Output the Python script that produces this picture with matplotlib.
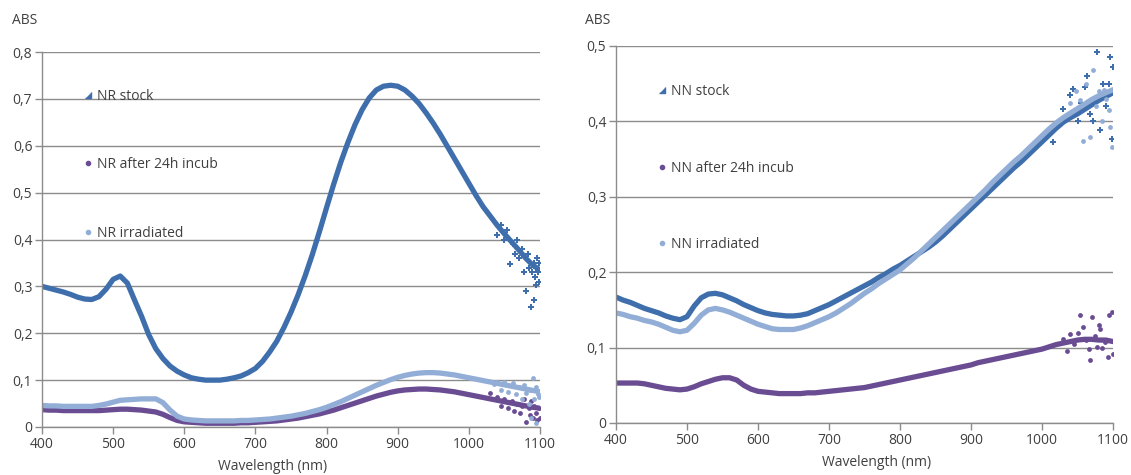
import matplotlib
matplotlib.use("Agg")
import matplotlib.pyplot as plt
from matplotlib.ticker import FuncFormatter, MultipleLocator
from matplotlib.patches import Rectangle
from matplotlib.lines import Line2D
import numpy as np

# ---------------- data ----------------
wl = list(range(400, 1101, 10))

nr_stock = [0.300, 0.296, 0.292, 0.288, 0.283, 0.277, 0.273, 0.272, 0.278, 0.294,
            0.315, 0.322, 0.307, 0.271, 0.236, 0.197, 0.167, 0.146, 0.130, 0.119,
            0.111, 0.105, 0.102, 0.100, 0.100, 0.100, 0.102, 0.105, 0.109, 0.116,
            0.125, 0.140, 0.160, 0.183, 0.212, 0.245, 0.282, 0.323, 0.368, 0.417,
            0.468, 0.518, 0.565, 0.607, 0.645, 0.677, 0.702, 0.719, 0.727, 0.729,
            0.727, 0.719, 0.706, 0.690, 0.670, 0.648, 0.624, 0.598, 0.572, 0.546,
            0.520, 0.494, 0.470, 0.450, 0.430, 0.412, 0.395, 0.378, 0.360, 0.345,
            0.335]
nr_incub = [0.037, 0.036, 0.036, 0.035, 0.035, 0.035, 0.035, 0.035, 0.035, 0.036,
            0.037, 0.038, 0.038, 0.037, 0.036, 0.034, 0.032, 0.027, 0.020, 0.014,
            0.011, 0.010, 0.009, 0.008, 0.008, 0.008, 0.008, 0.008, 0.009, 0.009,
            0.010, 0.011, 0.012, 0.013, 0.015, 0.017, 0.019, 0.022, 0.025, 0.028,
            0.032, 0.036, 0.041, 0.046, 0.051, 0.056, 0.061, 0.066, 0.070, 0.074,
            0.077, 0.079, 0.080, 0.081, 0.081, 0.080, 0.079, 0.077, 0.075, 0.072,
            0.069, 0.066, 0.063, 0.060, 0.057, 0.054, 0.051, 0.048, 0.045, 0.042,
            0.040]
nr_irr = [0.046, 0.045, 0.045, 0.044, 0.044, 0.044, 0.044, 0.044, 0.046, 0.049,
          0.053, 0.057, 0.058, 0.059, 0.060, 0.060, 0.060, 0.052, 0.036, 0.023,
          0.017, 0.015, 0.014, 0.013, 0.013, 0.013, 0.013, 0.013, 0.014, 0.014,
          0.015, 0.016, 0.017, 0.019, 0.021, 0.023, 0.026, 0.029, 0.033, 0.037,
          0.042, 0.048, 0.054, 0.061, 0.068, 0.075, 0.082, 0.089, 0.095, 0.101,
          0.106, 0.110, 0.113, 0.115, 0.116, 0.116, 0.115, 0.113, 0.111, 0.108,
          0.105, 0.102, 0.099, 0.096, 0.093, 0.090, 0.087, 0.084, 0.081, 0.078,
          0.075]

# scattered (noisy) readings near the end of the range
nr_stock_nx = [1040, 1045, 1050, 1054, 1058, 1062, 1065, 1068, 1071, 1074, 1077, 1080, 1083,
               1085, 1087, 1089, 1091, 1092, 1093, 1094, 1095, 1096, 1097, 1098, 1099]
nr_stock_ny = [0.41, 0.43, 0.40, 0.42, 0.348, 0.39, 0.37, 0.40, 0.36, 0.38, 0.33, 0.291, 0.37,
               0.34, 0.257, 0.33, 0.35, 0.271, 0.32, 0.302, 0.34, 0.36, 0.33, 0.35, 0.31]
nr_incub_nx = [1030, 1040, 1045, 1050, 1055, 1060, 1064, 1068, 1072, 1075, 1078, 1081, 1084,
               1086, 1088, 1090, 1092, 1094, 1096, 1098, 1100]
nr_incub_ny = [0.072, 0.065, 0.045, 0.060, 0.040, 0.055, 0.035, 0.050, 0.030, 0.045, 0.060,
               0.010, 0.040, 0.025, 0.055, 0.020, 0.045, 0.030, 0.015, 0.040, 0.020]
nr_irr_nx = [1035, 1040, 1045, 1050, 1055, 1060, 1062, 1066, 1070, 1074, 1078, 1081, 1084,
             1086, 1088, 1090, 1092, 1094, 1095, 1097, 1099]
nr_irr_ny = [0.092, 0.097, 0.080, 0.095, 0.075, 0.090, 0.093, 0.070, 0.085, 0.060, 0.090,
             0.072, 0.050, 0.080, 0.019, 0.104, 0.060, 0.085, 0.008, 0.070, 0.065]

nn_stock = [0.167, 0.163, 0.160, 0.156, 0.152, 0.149, 0.146, 0.142, 0.139, 0.137,
            0.141, 0.155, 0.166, 0.171, 0.172, 0.170, 0.166, 0.162, 0.157, 0.153,
            0.149, 0.146, 0.144, 0.143, 0.142, 0.142, 0.143, 0.145, 0.149, 0.153,
            0.157, 0.162, 0.167, 0.172, 0.177, 0.182, 0.187, 0.193, 0.198, 0.204,
            0.209, 0.215, 0.221, 0.227, 0.233, 0.240, 0.248, 0.257, 0.266, 0.275,
            0.284, 0.293, 0.302, 0.311, 0.320, 0.329, 0.338, 0.346, 0.355, 0.364,
            0.373, 0.382, 0.391, 0.399, 0.405, 0.410, 0.416, 0.422, 0.428, 0.433,
            0.438]
nn_incub = [0.053, 0.053, 0.053, 0.053, 0.052, 0.050, 0.048, 0.046, 0.045, 0.044,
            0.045, 0.048, 0.052, 0.055, 0.058, 0.060, 0.060, 0.057, 0.050, 0.045,
            0.042, 0.041, 0.040, 0.039, 0.039, 0.039, 0.039, 0.040, 0.040, 0.041,
            0.042, 0.043, 0.044, 0.045, 0.046, 0.047, 0.049, 0.051, 0.053, 0.055,
            0.057, 0.059, 0.061, 0.063, 0.065, 0.067, 0.069, 0.071, 0.073, 0.075,
            0.077, 0.080, 0.082, 0.084, 0.086, 0.088, 0.090, 0.092, 0.094, 0.096,
            0.098, 0.101, 0.104, 0.106, 0.108, 0.110, 0.111, 0.111, 0.110, 0.110,
            0.108]
nn_irr = [0.146, 0.144, 0.141, 0.139, 0.136, 0.134, 0.131, 0.127, 0.123, 0.121,
          0.123, 0.132, 0.143, 0.150, 0.152, 0.150, 0.147, 0.143, 0.139, 0.135,
          0.131, 0.128, 0.125, 0.124, 0.124, 0.124, 0.126, 0.129, 0.133, 0.137,
          0.141, 0.146, 0.152, 0.158, 0.165, 0.172, 0.178, 0.185, 0.191, 0.197,
          0.203, 0.211, 0.219, 0.228, 0.237, 0.246, 0.255, 0.264, 0.273, 0.282,
          0.291, 0.300, 0.309, 0.319, 0.328, 0.337, 0.346, 0.354, 0.363, 0.372,
          0.381, 0.390, 0.398, 0.405, 0.411, 0.417, 0.423, 0.429, 0.434, 0.438,
          0.442]

nn_stock_nx = [1015, 1030, 1040, 1044, 1050, 1055, 1060, 1063, 1068, 1072, 1077, 1080, 1082,
               1086, 1090, 1094, 1096, 1098, 1100]
nn_stock_ny = [0.373, 0.417, 0.435, 0.443, 0.400, 0.425, 0.445, 0.460, 0.410, 0.401, 0.492,
               0.432, 0.388, 0.450, 0.420, 0.450, 0.485, 0.377, 0.472]
nn_incub_nx = [1030, 1035, 1040, 1045, 1050, 1054, 1058, 1062, 1066, 1068, 1070, 1074, 1077,
               1080, 1082, 1085, 1089, 1093, 1095, 1098, 1100]
nn_incub_ny = [0.112, 0.096, 0.118, 0.105, 0.120, 0.143, 0.127, 0.110, 0.098, 0.084, 0.141,
               0.115, 0.101, 0.130, 0.125, 0.100, 0.108, 0.087, 0.143, 0.147, 0.092]
nn_irr_nx = [1040, 1048, 1053, 1058, 1062, 1067, 1072, 1076, 1080, 1084, 1087, 1090, 1094,
             1096, 1099]
nn_irr_ny = [0.425, 0.440, 0.428, 0.374, 0.450, 0.379, 0.468, 0.420, 0.440, 0.400, 0.441,
             0.430, 0.415, 0.392, 0.366]

labels_nr = ["NR stock", "NR after 24h incub", "NR irradiated"]
labels_nn = ["NN stock", "NN after 24h incub", "NN irradiated"]

# ---------------- style ----------------
C_STOCK = "#3E6EAB"
C_INCUB = "#6A4C93"
C_IRR = "#92ADD6"
GRID = "#8C8C8C"
TXT = "#404040"
FS = 10
FONT = ["Open Sans", "DejaVu Sans"]
plt.rcParams["font.family"] = FONT

fig = plt.figure(figsize=(11.31, 4.75), dpi=100)
ax1 = fig.add_axes([42 / 1131, 48 / 475, 498 / 1131, 375 / 475])
ax2 = fig.add_axes([616 / 1131, 52 / 475, 497 / 1131, 377 / 475])

def comma(v, pos):
    if abs(v) < 1e-9:
        return "0"
    return f"{v:.1f}".replace(".", ",")

def style_axes(ax, ymax, ystep, legend_rect, xlabel_x, xlabel_y):
    ax.set_xlim(400, 1100)
    ax.set_ylim(0, ymax)
    ax.xaxis.set_major_locator(MultipleLocator(100))
    ax.yaxis.set_major_locator(MultipleLocator(ystep))
    ax.yaxis.set_major_formatter(FuncFormatter(comma))
    for s in ["top", "right"]:
        ax.spines[s].set_visible(False)
    for s in ["left", "bottom"]:
        ax.spines[s].set_color(GRID)
        ax.spines[s].set_linewidth(1.0)
    ax.grid(axis="y", color=GRID, linewidth=1.0, zorder=0)
    ax.set_axisbelow(True)
    ax.tick_params(axis="both", direction="out", length=5, width=1.0, color=GRID,
                   labelsize=FS, labelcolor=TXT, pad=2)
    ax.add_patch(Rectangle(legend_rect[0], legend_rect[1], legend_rect[2],
                           transform=ax.transAxes, facecolor="white",
                           edgecolor="none", zorder=0.5))
    ax.set_xlabel("Wavelength (nm)", fontsize=FS, color=TXT)
    ax.xaxis.set_label_coords(xlabel_x, xlabel_y)

def draw(ax, ys, nxs, nys, labels, lspacing, top):
    cols = [C_STOCK, C_INCUB, C_IRR]
    for y, nx, ny, c, m in zip(ys, nxs, nys, cols, ["P", "o", "o"]):
        ax.plot(wl, y, color=c, lw=3.8, solid_capstyle="round",
                solid_joinstyle="round", zorder=2)
        ax.scatter(nx, ny, s=14 if m == "P" else 12, marker=m, color=c,
                   linewidths=0, zorder=2)
    tri = [(-1, -1), (1, -1), (1, 1)]
    handles = [Line2D([], [], ls="none", marker=tri, ms=4, color=C_STOCK),
               Line2D([], [], ls="none", marker="o", ms=3, color=C_INCUB),
               Line2D([], [], ls="none", marker="o", ms=3, color=C_IRR)]
    leg = ax.legend(handles, labels, loc="upper left", bbox_to_anchor=(0.085, top),
                    frameon=False, fontsize=FS, handlelength=0.6, handletextpad=0.3,
                    labelspacing=lspacing, borderpad=0, borderaxespad=0)
    for t in leg.get_texts():
        t.set_color(TXT)
    leg.set_zorder(3)

style_axes(ax1, 0.8, 0.1, ((0, 0.4375), 0.414, 0.5), 0.462, -0.085)
style_axes(ax2, 0.5, 0.1, ((0, 0.30), 0.4165, 0.64), 0.525, -0.085)

draw(ax1, [nr_stock, nr_incub, nr_irr],
     [nr_stock_nx, nr_incub_nx, nr_irr_nx], [nr_stock_ny, nr_incub_ny, nr_irr_ny],
     labels_nr, 3.85, 0.902)
draw(ax2, [nn_stock, nn_incub, nn_irr],
     [nn_stock_nx, nn_incub_nx, nn_irr_nx], [nn_stock_ny, nn_incub_ny, nn_irr_ny],
     labels_nn, 4.45, 0.90)

fig.text(12 / 1131, 1 - 21 / 475, "ABS", fontsize=FS, color=TXT, va="center", ha="left")
fig.text(585 / 1131, 1 - 21 / 475, "ABS", fontsize=FS, color=TXT, va="center", ha="left")

fig.savefig("out.png", dpi=100)
